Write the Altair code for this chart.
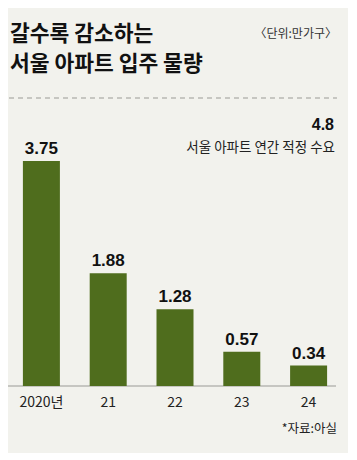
import altair as alt
import pandas as pd

# ---- data ----
years = ["2020년", "21", "22", "23", "24"]
supply = [3.75, 1.88, 1.28, 0.57, 0.34]
value_labels = ["3.75", "1.88", "1.28", "0.57", "0.34"]
demand_value = [4.8]
demand_text = ["4.8"]
demand_label = ["서울 아파트 연간 적정 수요"]
title_line1 = ["갈수록 감소하는"]
title_line2 = ["서울 아파트 입주 물량"]
unit_text = ["〈단위:만가구〉"]
source_text = ["*자료:아실"]

KR = "Noto Sans CJK KR"
NUM = "Liberation Sans"
GREEN = "#4f6d1d"
BG = "#f2f2ed"

df = pd.DataFrame({"year": years, "supply": supply, "label": value_labels})
ref = pd.DataFrame({"v": demand_value, "t": demand_text})

x_enc = alt.X(
    "year:N",
    sort=years,
    scale=alt.Scale(paddingInner=0, paddingOuter=0),
    axis=alt.Axis(
        title=None, domain=False, ticks=False, labelAngle=0,
        labelFontSize=14, labelColor="#222", labelFont=KR,
        labelPadding=16, labelBaseline="middle",
    ),
)
y_scale = alt.Scale(domain=[0, 4.8], nice=False, zero=True)

bars = alt.Chart(df).mark_bar(size=37, color=GREEN).encode(
    x=x_enc,
    y=alt.Y("supply:Q", scale=y_scale, axis=None),
)

vals = alt.Chart(df).mark_text(
    font=NUM, fontSize=17, fontWeight="bold", color="#111",
    baseline="alphabetic", dy=-7,
).encode(
    x=x_enc,
    y=alt.Y("supply:Q", scale=y_scale, axis=None),
    text="label:N",
)

baseline = alt.Chart(pd.DataFrame({"z": [0.0]})).mark_rule(
    color="#9a9a96", strokeWidth=1
).encode(
    y=alt.Y("z:Q", scale=y_scale, axis=None),
    x=alt.value(0), x2=alt.value(328),
)

dash = alt.Chart(ref).mark_rule(
    color="#b8b8b3", strokeWidth=1.5, strokeDash=[5, 4]
).encode(
    y=alt.Y("v:Q", scale=y_scale, axis=None),
    x=alt.value(1), x2=alt.value(329),
)

def txt(lines, x, y, size, align="left", weight="normal", font=KR, color="#222"):
    return alt.Chart(pd.DataFrame({"t": lines})).mark_text(
        font=font, fontSize=size, fontWeight=weight, color=color,
        align=align, baseline="middle",
    ).encode(x=alt.value(x), y=alt.value(y), text="t:N")

demand_num = alt.Chart(ref).mark_text(
    font=NUM, fontSize=16, fontWeight="bold", color="#111",
    align="right", baseline="middle",
).encode(x=alt.value(326), y=alt.value(27), text="t:N")

layers = [
    dash,
    baseline,
    bars,
    vals,
    demand_num,
    txt(demand_label, 327, 50, 13.5, align="right"),
    txt(title_line1, 2, -63, 21.5, weight="bold", color="#111"),
    txt(title_line2, 2, -33, 21.5, weight="bold", color="#111"),
    txt(unit_text, 329, -64, 12, align="right", color="#333"),
    txt(source_text, 329, 331, 12.5, align="right"),
]

chart = alt.layer(*layers).properties(
    width=334,
    height=288,
    autosize=alt.AutoSizeParams(type="none"),
    padding={"left": 0, "top": 90, "right": 6, "bottom": 67},
    background=BG,
).configure_view(stroke=None)

chart.save("out.html", embed_options={"renderer": "svg", "actions": False})
